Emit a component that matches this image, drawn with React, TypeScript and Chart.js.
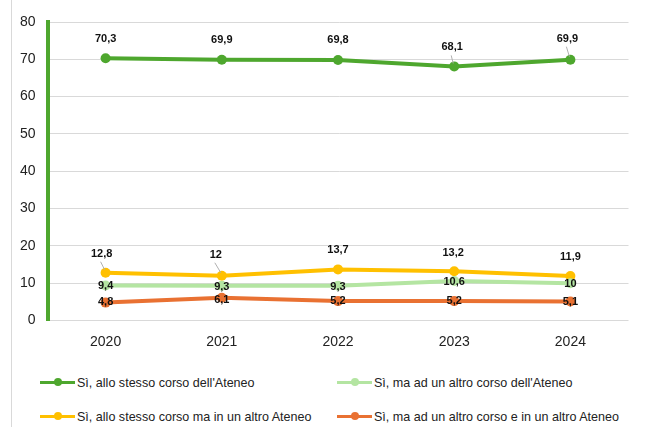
import React, { useEffect, useRef } from "react";
import { Chart, registerables } from "chart.js";

Chart.register(...registerables);

// ---- data ----
const years = ["2020", "2021", "2022", "2023", "2024"];
const stessoCorsoAteneo = [70.3, 69.9, 69.8, 68.1, 69.9];
const altroCorsoAteneo = [9.4, 9.3, 9.3, 10.6, 10];
const stessoCorsoAltroAteneo = [12.8, 12, 13.7, 13.2, 11.9];
const altroCorsoAltroAteneo = [4.8, 6.1, 5.2, 5.2, 5.1];
const seriesNames = [
  "Sì, allo stesso corso dell'Ateneo",
  "Sì, ma ad un altro corso dell'Ateneo",
  "Sì, allo stesso corso ma in un altro Ateneo",
  "Sì, ma ad un altro corso e in un altro Ateneo",
];
const yTickValues = [0, 10, 20, 30, 40, 50, 60, 70, 80];

// ---- styles ----
const colors = ["#4EA72E", "#B4E5A2", "#FFC000", "#E97132"];
// label offsets per dataset/point: [dx, dy, leader]
const labelOffsets: [number, number, boolean][][] = [
  [[0, -19, false], [0, -20, false], [0, -20, false], [-2, -19, true], [-3, -21, true]],
  [[0, 1, false], [0, 1.5, false], [0, 1, false], [0, 1, false], [0, 0.5, false]],
  [[-4, -19, true], [-6, -21, true], [0, -19, false], [-1, -18.5, false], [0, -19, false]],
  [[0, -1, false], [0, 2, false], [0, 0, false], [0, 0, false], [0, 0, false]],
];

const fmt = (v: number) => String(v).replace(".", ",");

const labelPlugin = {
  id: "pointLabels",
  afterDatasetsDraw(chart: any) {
    const ctx = chart.ctx;
    ctx.save();
    ctx.font = "bold 11px 'Liberation Sans', Arial, sans-serif";
    ctx.textAlign = "center";
    ctx.textBaseline = "middle";
    chart.data.datasets.forEach((ds: any, di: number) => {
      const meta = chart.getDatasetMeta(di);
      meta.data.forEach((pt: any, i: number) => {
        const [dx, dy, leader] = labelOffsets[di][i];
        const lx = pt.x + dx;
        const ly = pt.y + dy;
        if (leader) {
          ctx.strokeStyle = "#b0b0b0";
          ctx.lineWidth = 1;
          ctx.beginPath();
          ctx.moveTo(lx - 1, ly + 8);
          ctx.lineTo(pt.x - 1, pt.y - 3);
          ctx.stroke();
        }
        ctx.fillStyle = "#111";
        ctx.fillText(fmt(ds.data[i]), lx, ly);
      });
    });
    ctx.restore();
  },
};

const legendFont = "'Liberation Sans', Arial, sans-serif";

function LegendItem({ color, text, left, top }: { color: string; text: string; left: number; top: number }) {
  return (
    <div
      style={{
        position: "absolute",
        left,
        top: top - 10,
        height: 20,
        display: "flex",
        alignItems: "center",
        whiteSpace: "nowrap",
      }}
    >
      <div style={{ position: "relative", width: 35, height: 20, marginRight: 2 }}>
        <div
          style={{
            position: "absolute",
            left: 0,
            top: 8.5,
            width: 35,
            height: 3,
            background: color,
          }}
        />
        <div
          style={{
            position: "absolute",
            left: 13.5,
            top: 6,
            width: 8,
            height: 8,
            borderRadius: 4,
            background: color,
          }}
        />
      </div>
      <span
        style={{
          fontFamily: legendFont,
          fontSize: 13.5,
          color: "#222",
          display: "inline-block",
          transform: "scaleX(0.93)",
          transformOrigin: "left center",
        }}
      >
        {text}
      </span>
    </div>
  );
}

export default function App() {
  const ref = useRef<HTMLCanvasElement>(null);

  useEffect(() => {
    if (!ref.current) return;
    const series = [stessoCorsoAteneo, altroCorsoAteneo, stessoCorsoAltroAteneo, altroCorsoAltroAteneo];
    const chart = new Chart(ref.current, {
      type: "line",
      data: {
        labels: years,
        datasets: series.map((d, i) => ({
          label: seriesNames[i],
          data: d,
          borderColor: colors[i],
          backgroundColor: colors[i],
          borderWidth: 4,
          pointRadius: 5,
          pointHoverRadius: 5,
          pointBorderWidth: 0,
          tension: 0,
          fill: false,
        })),
      },
      options: {
        animation: false,
        responsive: false,
        maintainAspectRatio: false,
        layout: { padding: { top: 22, right: 25.5, left: 0, bottom: 0 } },
        plugins: {
          legend: { display: false },
          tooltip: { enabled: false },
        },
        scales: {
          x: {
            offset: true,
            grid: { display: false, drawTicks: false },
            border: { display: false },
            ticks: {
              padding: 13,
              color: "#222",
              font: { family: "'Liberation Sans', Arial, sans-serif", size: 14 },
            },
            afterFit: (s: any) => {
              s.height = 39.5;
            },
          },
          y: {
            min: 0,
            max: 80,
            afterBuildTicks: (s: any) => {
              s.ticks = yTickValues.map((v) => ({ value: v }));
            },
            grid: { color: "#d9d9d9", lineWidth: 1, drawTicks: false },
            border: { display: true, color: "#4EA72E", width: 4 },
            ticks: {
              padding: 12,
              color: "#222",
              font: { family: "'Liberation Sans', Arial, sans-serif", size: 14 },
            },
            afterFit: (s: any) => {
              s.width = 47.5;
            },
          },
        },
      },
      plugins: [labelPlugin],
    });
    return () => chart.destroy();
  }, []);

  return (
    <div style={{ position: "fixed", left: 0, top: 0, width: 654, height: 427, background: "#fff", overflow: "hidden" }}>
      <div style={{ position: "absolute", left: 10.5, top: 0, width: 1, height: 427, background: "#d9d9d9" }} />
      <canvas ref={ref} width={654} height={360} style={{ position: "absolute", left: 0, top: 0, width: 654, height: 360 }} />
      <LegendItem color={colors[0]} text={seriesNames[0]} left={40} top={382} />
      <LegendItem color={colors[1]} text={seriesNames[1]} left={337} top={382} />
      <LegendItem color={colors[2]} text={seriesNames[2]} left={40} top={416} />
      <LegendItem color={colors[3]} text={seriesNames[3]} left={337} top={416} />
    </div>
  );
}
